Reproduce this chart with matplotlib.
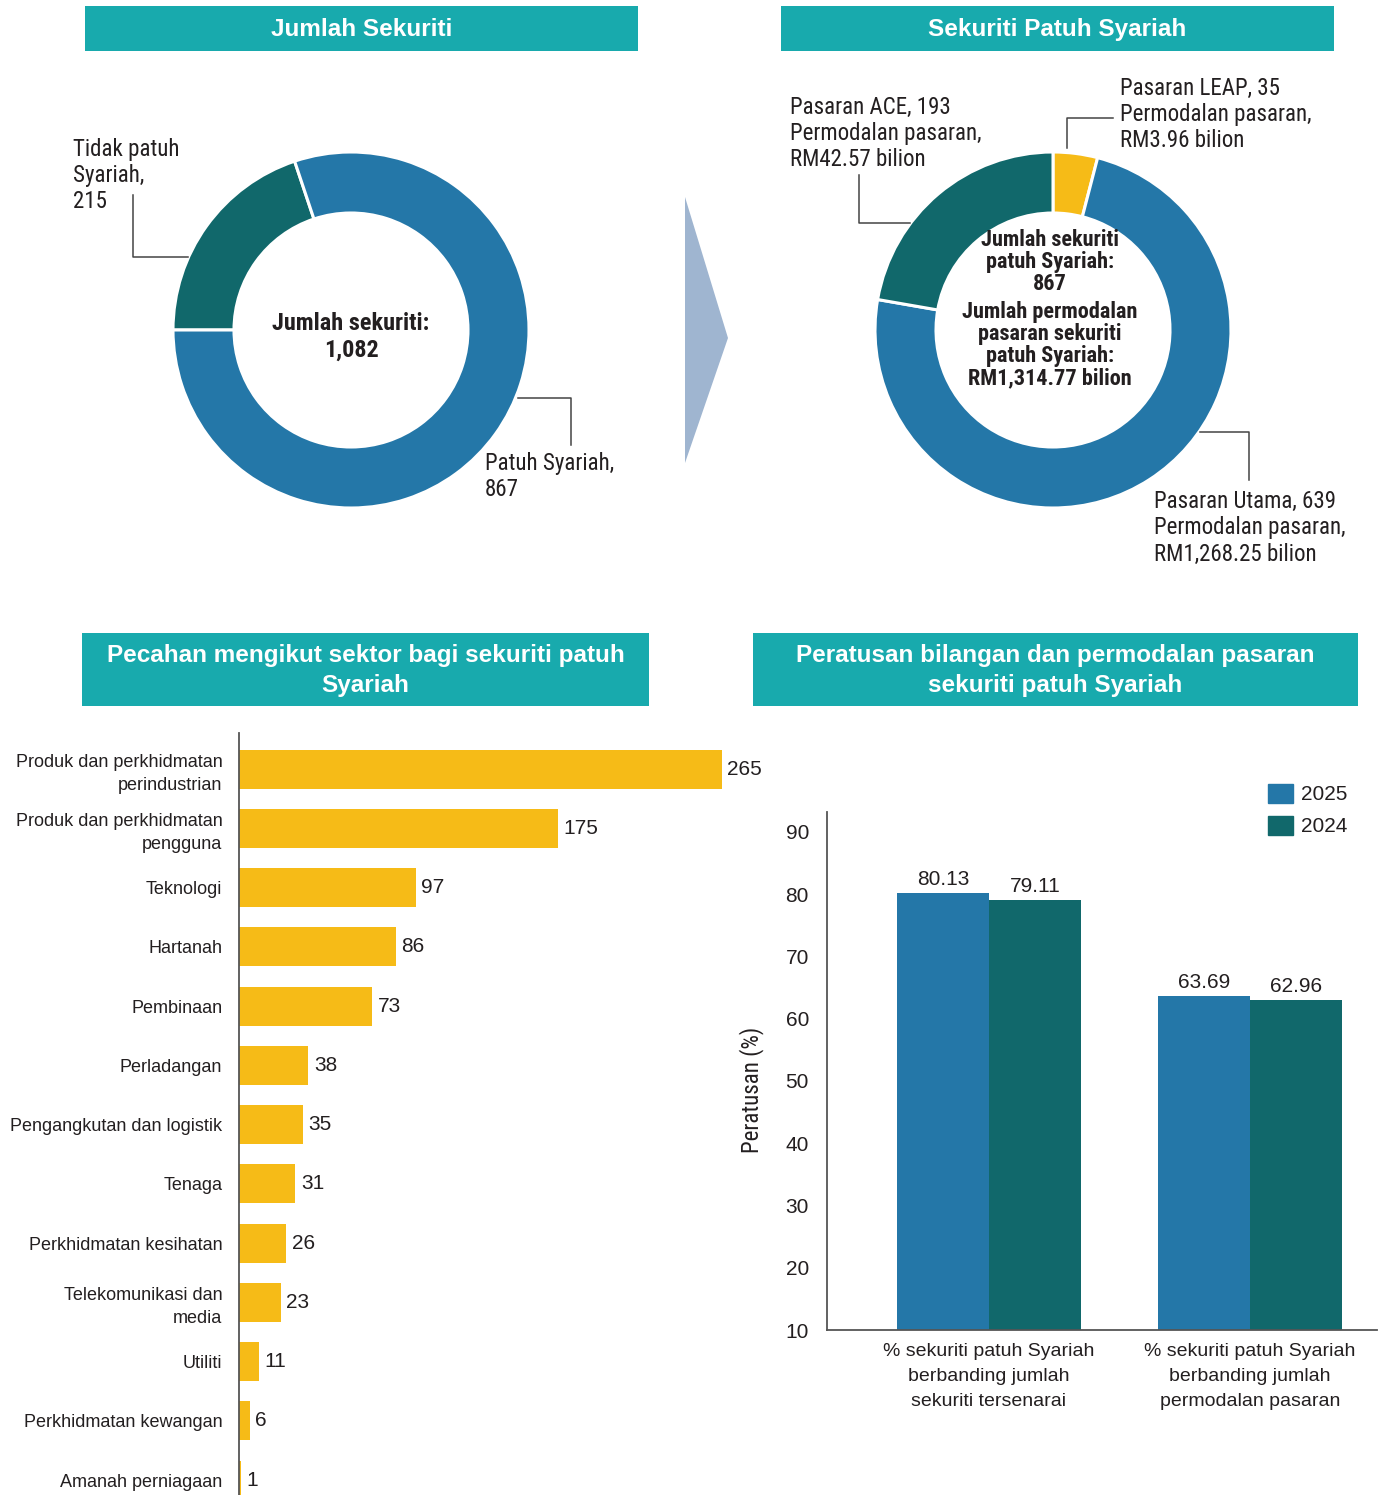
import matplotlib
matplotlib.use('Agg')
import os
import matplotlib.pyplot as plt
from matplotlib import font_manager
from matplotlib.font_manager import FontProperties
from matplotlib.patches import Rectangle, Polygon, Patch

W, H = 1385, 1495

# data
jumlah_labels = ['Tidak patuh\nSyariah', 'Patuh Syariah']
jumlah_values = [215, 867]
jumlah_total = 1082

pasaran_labels = ['Pasaran LEAP', 'Pasaran Utama', 'Pasaran ACE']
pasaran_counts = [35, 639, 193]
pasaran_modal = ['3.96', '1,268.25', '42.57']   # RM bilion
jumlah_patuh = 867
jumlah_modal = '1,314.77'

sektor = ['Produk dan perkhidmatan\nperindustrian', 'Produk dan perkhidmatan\npengguna',
          'Teknologi', 'Hartanah', 'Pembinaan', 'Perladangan', 'Pengangkutan dan logistik',
          'Tenaga', 'Perkhidmatan kesihatan', 'Telekomunikasi dan\nmedia', 'Utiliti',
          'Perkhidmatan kewangan', 'Amanah perniagaan']
sektor_bil = [265, 175, 97, 86, 73, 38, 35, 31, 26, 23, 11, 6, 1]

kategori = ['% sekuriti patuh Syariah\nberbanding jumlah\nsekuriti tersenarai',
            '% sekuriti patuh Syariah\nberbanding jumlah\npermodalan pasaran']
tahun = ['2025', '2024']
pct_2025 = [80.13, 63.69]
pct_2024 = [79.11, 62.96]

# colours
BLUE = '#2477a8'
TEAL = '#11686b'
YELLOW = '#f6bb17'
HEAD = '#18aaad'
ARROW = '#9fb5d0'
TXT = '#231f20'
REG = 'Liberation Sans'


# look for a condensed face (the original uses a condensed sans)
def find_face(patterns):
    files = [f.fname for f in font_manager.fontManager.ttflist]
    for p in patterns:
        for fn in files:
            if p.lower() in os.path.basename(fn).lower():
                return fn
    return None


cond_reg = find_face(['RobotoCondensed-Regular', 'LiberationSansNarrow-Regular', 'DejaVuSansCondensed.'])
cond_bold = find_face(['RobotoCondensed-Bold.', 'LiberationSansNarrow-Bold.', 'DejaVuSansCondensed-Bold.'])


def cfont(size, bold=False):
    fn = cond_bold if bold else cond_reg
    if fn:
        return FontProperties(fname=fn, size=size)
    return FontProperties(family=REG, size=size, weight='bold' if bold else 'normal')


fig = plt.figure(figsize=(W / 100, H / 100), dpi=100)


def px_axes(x0, y0, x1, y1):
    return fig.add_axes([x0 / W, 1 - y1 / H, (x1 - x0) / W, (y1 - y0) / H])


R_OUT, R_IN = 178, 117

# donut 1 - jumlah sekuriti
cx1, cy1 = 351, 330
d1 = px_axes(cx1 - R_OUT, cy1 - R_OUT, cx1 + R_OUT, cy1 + R_OUT)
d1.pie(jumlah_values, colors=[TEAL, BLUE], startangle=180, counterclock=False, radius=1,
       wedgeprops=dict(width=1 - R_IN / R_OUT, edgecolor='white', linewidth=2.2))
d1.set_xlim(-1, 1)
d1.set_ylim(-1, 1)
d1.axis('off')

# donut 2 - sekuriti patuh syariah
cx2, cy2 = 1053, 330
d2 = px_axes(cx2 - R_OUT, cy2 - R_OUT, cx2 + R_OUT, cy2 + R_OUT)
d2.pie(pasaran_counts, colors=[YELLOW, BLUE, TEAL], startangle=90, counterclock=False, radius=1,
       wedgeprops=dict(width=1 - R_IN / R_OUT, edgecolor='white', linewidth=2.2))
d2.set_xlim(-1, 1)
d2.set_ylim(-1, 1)
d2.axis('off')

# horizontal bars - sektor
ax = px_axes(239, 733, 760, 1495)
ypos = list(range(len(sektor)))
bars = ax.barh(ypos, sektor_bil, height=0.66, color=YELLOW)
ax.bar_label(bars, padding=4, fontsize=15, family=REG, color=TXT)
ax.set_ylim(12.25, -0.61)
ax.set_xlim(0, 286)
ax.set_yticks(ypos)
ax.set_yticklabels(sektor, fontsize=13, family=REG, color=TXT, linespacing=1.45)
ax.tick_params(axis='y', length=0, pad=12)
ax.set_xticks([])
for s in ['top', 'right', 'bottom']:
    ax.spines[s].set_visible(False)
ax.spines['left'].set_color('#555555')
ax.spines['left'].set_linewidth(1.3)

# grouped columns - peratusan
ax2 = px_axes(827, 812, 1377, 1330)
gx = [0, 1]
bw = 0.352
b1 = ax2.bar([g - bw / 2 for g in gx], pct_2025, width=bw, color=BLUE, label=tahun[0])
b2 = ax2.bar([g + bw / 2 for g in gx], pct_2024, width=bw, color=TEAL, label=tahun[1])
ax2.bar_label(b1, labels=[f'{v:.2f}' for v in pct_2025], padding=3, fontsize=15, family=REG, color=TXT)
ax2.bar_label(b2, labels=[f'{v:.2f}' for v in pct_2024], padding=3, fontsize=15, family=REG, color=TXT)
ax2.set_xlim(-0.62, 1.487)
ax2.set_ylim(10, 93.2)
ax2.set_yticks(range(10, 91, 10))
ax2.set_yticklabels([str(v) for v in range(10, 91, 10)], fontsize=15, family=REG, color=TXT)
ax2.set_xticks(gx)
ax2.set_xticklabels(kategori, fontsize=14, family=REG, color=TXT, linespacing=1.65)
ax2.tick_params(axis='y', length=0, pad=13)
ax2.tick_params(axis='x', length=0, pad=9)
for s in ['top', 'right']:
    ax2.spines[s].set_visible(False)
for s in ['left', 'bottom']:
    ax2.spines[s].set_color('#555555')
    ax2.spines[s].set_linewidth(1.3)
ax2.legend(handles=[Patch(color=BLUE, label=tahun[0]), Patch(color=TEAL, label=tahun[1])],
           loc='upper left', bbox_to_anchor=(1268 / W, 1 - 784 / H), bbox_transform=fig.transFigure,
           frameon=False, prop={'family': REG, 'size': 15}, handlelength=1.2, handleheight=1.0,
           handletextpad=0.4, labelspacing=0.55, borderpad=0, borderaxespad=0, labelcolor=TXT)

# overlay for headers, leader lines and annotations
ov = fig.add_axes([0, 0, 1, 1])
ov.set_xlim(0, W)
ov.set_ylim(H, 0)
ov.axis('off')
ov.patch.set_alpha(0)

headers = [((85, 6, 638, 51), 'Jumlah Sekuriti'),
           ((781, 6, 1334, 51), 'Sekuriti Patuh Syariah'),
           ((82, 633, 649, 706), 'Pecahan mengikut sektor bagi sekuriti patuh\nSyariah'),
           ((753, 633, 1358, 706), 'Peratusan bilangan dan permodalan pasaran\nsekuriti patuh Syariah')]
for (x0, y0, x1, y1), t in headers:
    ov.add_patch(Rectangle((x0, y0), x1 - x0, y1 - y0, color=HEAD, lw=0))
    ov.text((x0 + x1) / 2, (y0 + y1) / 2 + 1, t, ha='center', va='center', color='white',
            fontsize=17.5, fontweight='bold', family=REG, linespacing=1.4)

# arrow between donuts
ov.add_patch(Polygon([(685, 197), (728, 338), (685, 463)], closed=True, color=ARROW, lw=0))

lead = dict(color='#444444', lw=1.1)
lab = cfont(16.5)
# donut 1 annotations
ov.plot([188, 133, 133], [257, 257, 195], **lead)
ov.text(73, 138, f'{jumlah_labels[0]},\n{jumlah_values[0]}', ha='left', va='top',
        fontproperties=lab, color=TXT, linespacing=1.18)
ov.plot([518, 571, 571], [398, 398, 445], **lead)
ov.text(485, 452, f'{jumlah_labels[1]},\n{jumlah_values[1]}', ha='left', va='top',
        fontproperties=lab, color=TXT, linespacing=1.18)
ov.text(cx1, 337, f'Jumlah sekuriti:\n{jumlah_total:,}', ha='center', va='center',
        fontproperties=cfont(17.5, True), color=TXT, linespacing=1.2)


# donut 2 annotations
def pasaran_text(i):
    return f'{pasaran_labels[i]}, {pasaran_counts[i]}\nPermodalan pasaran,\nRM{pasaran_modal[i]} bilion'


ov.plot([1067, 1067, 1113], [148, 118, 118], **lead)
ov.text(1120, 77, pasaran_text(0), ha='left', va='top', fontproperties=lab, color=TXT, linespacing=1.18)
ov.plot([910, 859, 859], [223, 223, 175], **lead)
ov.text(790, 96, pasaran_text(2), ha='left', va='top', fontproperties=lab, color=TXT, linespacing=1.18)
ov.plot([1200, 1249, 1249], [432, 432, 480], **lead)
ov.text(1154, 490, pasaran_text(1), ha='left', va='top', fontproperties=lab, color=TXT, linespacing=1.18)
ov.text(1050, 262, f'Jumlah sekuriti\npatuh Syariah:\n{jumlah_patuh}', ha='center', va='center',
        fontproperties=cfont(16, True), color=TXT, linespacing=1.0)
ov.text(1050, 345, f'Jumlah permodalan\npasaran sekuriti\npatuh Syariah:\nRM{jumlah_modal} bilion',
        ha='center', va='center', fontproperties=cfont(16, True), color=TXT, linespacing=1.0)

ov.text(752, 1090, 'Peratusan (%)', rotation=90, ha='center', va='center',
        fontproperties=cfont(16.5), color=TXT)

plt.savefig('out.png', dpi=100)
